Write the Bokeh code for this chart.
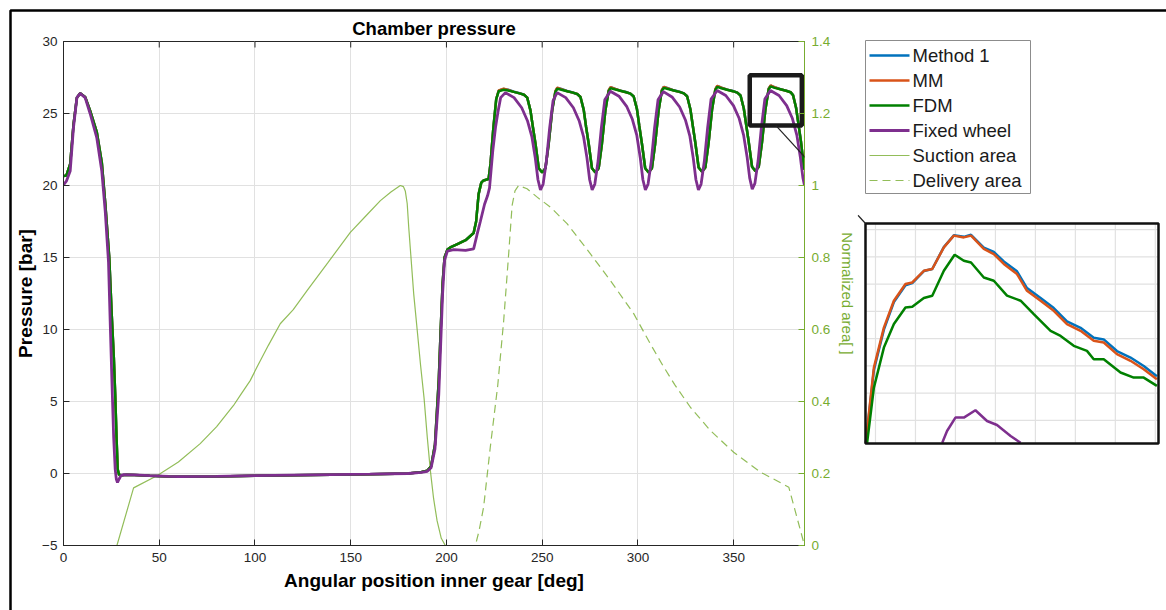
from bokeh.plotting import figure
from bokeh.models import (Range1d, LinearAxis, FixedTicker, CustomJSTickFormatter, Arrow, NormalHead)
from bokeh.core.properties import value
from bokeh.embed import file_html
from bokeh.resources import INLINE

# ---------------- data ----------------
angle_fdm = [0, 1.5, 3.5, 5.2, 7.0, 8.7, 11.3, 13.9, 17.4, 20.0, 21.8, 23.9, 25.2, 26.3, 27.0, 27.7,
             28.3, 29.0, 30.5, 33, 37, 45, 55, 60, 80, 100, 130, 160, 180, 187, 190, 192, 194, 196,
             197, 198, 199, 200.5, 202, 206, 210, 214.2, 215.5, 216.8, 218.2, 219.4, 222, 223, 224.5,
             226, 227.3, 229.9,
             232.2, 235.2, 238.2, 240.5, 242.2, 243.9, 245.1, 246.5, 248.2, 250.0, 251.7, 253.4, 255.2, 256.9, 257.9,
             260.0, 263.0, 266.0, 268.3, 270.0, 271.7, 272.9, 274.3, 276.0, 277.8, 279.5, 281.2, 283.0, 284.7, 285.7,
             287.8, 290.8, 293.8, 296.1, 297.8, 299.5, 300.7, 302.1, 303.8, 305.6, 307.3, 309.0, 310.8, 312.5, 313.5,
             315.7, 318.7, 321.7, 324.0, 325.7, 327.4, 328.6, 330.0, 331.7, 333.5, 335.2, 336.9, 338.7, 340.4, 341.4,
             343.6, 346.6, 349.6, 351.9, 353.6, 355.3, 356.5, 357.9, 359.6, 361.4, 363.1, 364.8, 366.6, 368.3, 369.3,
             371.4, 374.4, 377.4, 379.7, 381.0, 382.6, 383.8, 385.2, 386.6, 387.0]
pressure_fdm = [20.65, 20.7, 21.5, 24.2, 26.1, 26.4, 26.15, 25.2, 23.7, 21.6, 18.8, 15.0, 11.0, 8.0, 5.5, 2.5,
                0.3, -0.08, -0.12, -0.08, -0.1, -0.15, -0.2, -0.22, -0.2, -0.15, -0.1, -0.05, 0.0, 0.1, 0.2, 0.5, 2.0, 6.5,
                10.0, 13.2, 15.0, 15.55, 15.7, 15.95, 16.2, 16.7, 17.5, 19.4, 20.2, 20.35, 20.45, 21.5, 24.0,
                26.0, 26.55, 26.65,
                26.6, 26.5, 26.4, 26.3, 26.1, 25.2, 24.1, 22.9, 21.2, 20.9, 21.2, 22.9, 25.2, 26.5, 26.72,
                26.65, 26.55, 26.45, 26.35, 26.15, 25.25, 24.1, 22.9, 21.2, 20.9, 21.2, 22.9, 25.2, 26.55, 26.76,
                26.68, 26.58, 26.48, 26.38, 26.18, 25.3, 24.15, 22.9, 21.2, 20.9, 21.2, 22.9, 25.2, 26.58, 26.78,
                26.7, 26.6, 26.5, 26.4, 26.2, 25.3, 24.2, 22.95, 21.25, 20.95, 21.25, 22.95, 25.25, 26.62, 26.85,
                26.75, 26.65, 26.55, 26.45, 26.25, 25.35, 24.25, 23.0, 21.3, 21.0, 21.3, 23.0, 25.3, 26.68, 26.88,
                26.78, 26.68, 26.58, 26.48, 26.28, 25.4, 24.3, 23.0, 21.4, 21.1]
pressure_mm = [20.65, 20.7, 21.5, 24.2, 26.1, 26.4, 26.15, 25.2, 23.7, 21.6, 18.8, 15.0, 11.0, 8.0, 5.5, 2.5,
               0.3, -0.08, -0.12, -0.08, -0.1, -0.15, -0.2, -0.22, -0.2, -0.15, -0.1, -0.05, 0.0, 0.1, 0.2, 0.5, 2.0, 6.5,
               10.0, 13.2, 15.0, 15.55, 15.7, 15.95, 16.2, 16.7, 17.5, 19.4, 20.2, 20.35, 20.45, 21.5, 24.0,
               26.0, 26.6, 26.72,
               26.64, 26.5, 26.4, 26.3, 26.1, 25.2, 24.1, 22.9, 21.2, 20.9, 21.2, 22.9, 25.2, 26.55, 26.79,
               26.69, 26.55, 26.45, 26.35, 26.15, 25.25, 24.1, 22.9, 21.2, 20.9, 21.2, 22.9, 25.2, 26.6, 26.83,
               26.72, 26.58, 26.48, 26.38, 26.18, 25.3, 24.15, 22.9, 21.2, 20.9, 21.2, 22.9, 25.2, 26.63, 26.85,
               26.74, 26.6, 26.5, 26.4, 26.2, 25.3, 24.2, 22.95, 21.25, 20.95, 21.25, 22.95, 25.25, 26.67, 26.92,
               26.79, 26.65, 26.55, 26.45, 26.25, 25.35, 24.25, 23.0, 21.3, 21.0, 21.3, 23.0, 25.3, 26.73, 26.95,
               26.82, 26.68, 26.58, 26.48, 26.28, 25.4, 24.3, 23.0, 21.4, 21.1]
pressure_method1 = [20.65, 20.7, 21.5, 24.2, 26.1, 26.4, 26.15, 25.2, 23.7, 21.6, 18.8, 15.0, 11.0, 8.0, 5.5, 2.5,
                    0.3, -0.08, -0.12, -0.08, -0.1, -0.15, -0.2, -0.22, -0.2, -0.15, -0.1, -0.05, 0.0, 0.1, 0.2, 0.5, 2.0, 6.5,
                    10.0, 13.2, 15.0, 15.55, 15.7, 15.95, 16.2, 16.7, 17.5, 19.4, 20.2, 20.35, 20.45, 21.5, 24.0,
                    26.0, 26.58, 26.71,
                    26.65, 26.51, 26.41, 26.3, 26.1, 25.2, 24.1, 22.9, 21.2, 20.9, 21.2, 22.9, 25.2, 26.54, 26.78,
                    26.7, 26.56, 26.46, 26.35, 26.15, 25.25, 24.1, 22.9, 21.2, 20.9, 21.2, 22.9, 25.2, 26.59, 26.82,
                    26.73, 26.59, 26.49, 26.38, 26.18, 25.3, 24.15, 22.9, 21.2, 20.9, 21.2, 22.9, 25.2, 26.62, 26.84,
                    26.75, 26.61, 26.51, 26.4, 26.2, 25.3, 24.2, 22.95, 21.25, 20.95, 21.25, 22.95, 25.25, 26.66, 26.91,
                    26.8, 26.66, 26.56, 26.45, 26.25, 25.35, 24.25, 23.0, 21.3, 21.0, 21.3, 23.0, 25.3, 26.72, 26.94,
                    26.83, 26.69, 26.59, 26.48, 26.28, 25.4, 24.3, 23.0, 21.4, 21.1]

angle_fixed = [0, 1.5, 3.5, 5.2, 7.0, 8.7, 11.3, 13.9, 17.4, 20.0, 21.8, 23.5, 24.5, 25.3, 26.2, 27.0, 27.6,
               28.2, 29.0, 30.0, 31.5, 37, 45, 55, 60, 80, 100, 130, 160, 180, 187, 190, 192, 194, 196, 197,
               198, 199, 200.5, 203.8, 210, 214.2, 216.0, 217.7, 219.9, 221.5, 222.5, 224.2, 225.6, 226.9,
               228.3, 230.8,
               235.3, 239.3, 242.3, 244.6, 246.4, 247.8, 249.1, 250.5, 252.2, 253.9, 255.7, 257.8,
               262.3, 266.3, 269.3, 271.6, 273.4, 274.8, 276.1, 277.5, 279.2, 280.9, 282.7, 285.6,
               290.1, 294.1, 297.1, 299.4, 301.2, 302.6, 303.9, 305.3, 307.0, 308.7, 310.5, 313.3,
               317.8, 321.8, 324.8, 327.1, 328.9, 330.3, 331.6, 333.0, 334.7, 336.4, 338.2, 341.4,
               345.9, 349.9, 352.9, 355.2, 357.0, 358.4, 359.7, 361.1, 362.8, 364.5, 366.3, 369.2,
               373.7, 377.7, 380.7, 383.0, 384.8, 386.2, 387.0]
pressure_fixed = [20.05, 20.3, 21.0, 24.0, 26.1, 26.4, 26.1, 25.0, 23.3, 21.0, 18.2, 14.7, 10.0, 6.4, 2.5, 0.3, -0.4,
                  -0.62, -0.4, -0.15, -0.08, -0.1, -0.15, -0.2, -0.22, -0.2, -0.15, -0.1, -0.05, 0.0, 0.08, 0.15, 0.4, 1.7, 5.5, 9.0,
                  12.5, 14.8, 15.45, 15.55, 15.5, 15.6, 16.6, 17.5, 18.7, 19.3, 19.84, 22.4, 24.0, 25.1,
                  26.1, 26.45,
                  26.1, 25.4, 24.5, 23.4, 21.9, 20.4, 19.7, 20.1, 21.7, 24.0, 25.9, 26.45,
                  26.1, 25.4, 24.5, 23.4, 21.9, 20.4, 19.7, 20.1, 21.7, 24.0, 25.95, 26.55,
                  26.2, 25.5, 24.6, 23.5, 21.95, 20.4, 19.7, 20.1, 21.7, 24.0, 25.95, 26.52,
                  26.15, 25.45, 24.55, 23.45, 21.9, 20.4, 19.7, 20.1, 21.7, 24.0, 26.0, 26.6,
                  26.25, 25.55, 24.65, 23.5, 22.0, 20.5, 19.75, 20.15, 21.75, 24.05, 26.0, 26.6,
                  26.25, 25.55, 24.65, 23.5, 22.0, 20.5, 20.0]

angle_suction = [0, 27.9, 36.6, 48.8, 60, 71.4, 80, 88.8, 92.3, 97.5, 101, 107, 113.2, 120, 127.2, 138,
                 149.8, 158, 165.5, 171, 175.9, 177.5, 178.5, 179.5, 180.3, 182.9, 184.7, 186.5, 188.3, 190,
                 191.6, 193.3, 195.1, 197.3, 199.4, 387]
area_suction = [0, 0, 0.16, 0.194, 0.232, 0.283, 0.33, 0.389, 0.417, 0.458, 0.495, 0.556, 0.616, 0.655, 0.708, 0.785,
                0.87, 0.916, 0.958, 0.982, 1.0, 0.997, 0.985, 0.95, 0.884, 0.699, 0.6, 0.5, 0.41, 0.3,
                0.208, 0.13, 0.069, 0.02, 0, 0]

angle_delivery = [0, 215.1, 217, 219.4, 222.9, 226.8, 229.9, 232.5, 234.3, 235.8, 237.7, 242.1, 248, 254.3,
                  263, 275.2, 285.6, 297.8, 306.5, 313, 319.2, 327.4, 337.9, 350, 364, 378.8, 387]
area_delivery = [0, 0, 0.04, 0.106, 0.273, 0.445, 0.625, 0.81, 0.945, 0.985, 1.0, 0.991, 0.965, 0.94,
                 0.894, 0.81, 0.736, 0.644, 0.56, 0.5, 0.447, 0.384, 0.319, 0.259, 0.204, 0.162, 0]

x_ticks = [0, 50, 100, 150, 200, 250, 300, 350]
y_ticks = [-5, 0, 5, 10, 15, 20, 25, 30]
area_ticks = [0, 0.2, 0.4, 0.6, 0.8, 1.0, 1.2, 1.4]

legend_labels = ["Method 1", "MM", "FDM", "Fixed wheel", "Suction area", "Delivery area"]

# zoom rectangle drawn on the main axes (deg, bar)
zoom_left, zoom_right, zoom_bottom, zoom_top = 358.4, 385.6, 24.17, 27.66

# magnified inset
inset_angle_mm = [364.76, 364.78, 364.96, 365.21, 365.46, 365.75, 365.92, 366.21, 366.42, 366.71, 366.96,
                  367.21, 367.39, 367.71, 367.96, 368.21, 368.54, 368.79, 369.13, 369.46, 369.79, 370.13,
                  370.46, 370.71, 371.04, 371.38, 371.71, 372.04]
inset_p_mm = [25.235, 25.30, 25.787, 26.081, 26.278, 26.401, 26.412, 26.498, 26.511, 26.670, 26.756,
              26.743, 26.756, 26.658, 26.621, 26.548, 26.474, 26.351, 26.278, 26.204, 26.107, 26.057,
              25.984, 25.971, 25.886, 25.837, 25.775, 25.702]
inset_p_method1 = [25.235, 25.29, 25.770, 26.066, 26.268, 26.392, 26.408, 26.496, 26.511, 26.672, 26.758,
                   26.747, 26.762, 26.668, 26.636, 26.566, 26.494, 26.371, 26.298, 26.224, 26.127, 26.079,
                   26.006, 25.994, 25.909, 25.861, 25.799, 25.724]
inset_angle_fdm = [364.79, 364.96, 365.21, 365.46, 365.75, 365.92, 366.21, 366.42, 366.71, 366.98, 367.21,
                   367.39, 367.71, 367.96, 368.29, 368.63, 368.96, 369.38, 369.63, 369.96, 370.29, 370.46,
                   370.71, 371.13, 371.46, 371.71, 372.04]
inset_p_fdm = [25.235, 25.640, 25.934, 26.107, 26.229, 26.234, 26.298, 26.315, 26.498, 26.616, 26.572,
               26.559, 26.449, 26.425, 26.315, 26.278, 26.180, 26.057, 26.020, 25.947, 25.910, 25.849,
               25.849, 25.751, 25.714, 25.714, 25.653]
inset_angle_fixed = [366.67, 366.79, 367.0, 367.21, 367.5, 367.79, 368.04, 368.38, 368.63]
inset_p_fixed = [25.235, 25.322, 25.420, 25.420, 25.474, 25.395, 25.366, 25.285, 25.235]
inset_x_ticks = [365, 366, 367, 368, 369, 370, 371, 372]
inset_y_ticks = [25.4, 25.6, 25.8, 26.0, 26.2, 26.4, 26.6, 26.8]
inset_x_lim = (364.75, 372.08)
inset_y_lim = (25.23, 26.845)

# ---------------- layout (canvas pixels) and styles ----------------
W, H = 1166, 610
FL, FR, FT, FB = 63, 804, 41, 545          # main frame
IL, IR, IT, IB = 865, 1158, 223, 443       # inset frame
LG_L, LG_R, LG_T, LG_B = 865, 1030, 40, 193  # legend box
LG_ROW0, LG_ROW = 55, 25                   # first row centre, row pitch
LG_SAMPLE = (869, 909)                     # legend line sample x extent
LG_TEXT_X = 912
BORDER = 10                                # outer page frame
TICK_PX = 6                                # inward tick length
X_LIM = (0, 387)
Y_LIM = (-5, 30)
AREA_LIM = (0, 1.4)

FONT = "Liberation Sans"
AX = "#262626"
GRID = "#e1e1e1"
C_M1, C_MM, C_FDM, C_FIX = "#0072BD", "#D95319", "#008000", "#7E2F8E"
C_AREA = "#77AC30"

# extra ranges: one in canvas pixels (for page furniture) and one for the inset axes
sx = (inset_x_lim[1] - inset_x_lim[0]) / (IR - IL)
sy = (inset_y_lim[1] - inset_y_lim[0]) / (IB - IT)
inset_x_range = Range1d(inset_x_lim[0] - (IL - FL) * sx, inset_x_lim[0] + (FR - IL) * sx)
inset_y_range = Range1d(inset_y_lim[0] - (FB - IB) * sy, inset_y_lim[1] + (IT - FT) * sy)

p = figure(width=W, height=H, x_range=Range1d(*X_LIM), y_range=Range1d(*Y_LIM),
           output_backend="svg", toolbar_location=None,
           min_border_left=FL, min_border_right=W - FR, min_border_top=FT, min_border_bottom=H - FB,
           background_fill_color="white", border_fill_color="white",
           outline_line_color=AX, outline_line_width=1,
           title="Chamber pressure")
p.extra_x_ranges = {"inset_x": inset_x_range, "px_x": Range1d(FL, FR)}
p.extra_y_ranges = {"area": Range1d(*AREA_LIM), "inset_y": inset_y_range, "px_y": Range1d(FB, FT)}

p.title.text_font = FONT
p.title.text_font_size = "18.5px"
p.title.text_font_style = "bold"
p.title.text_color = "black"
p.title.align = "center"
p.title.standoff = 6

xa = p.below[0]
ya = p.left[0]
for ax in (xa, ya):
    ax.axis_line_color = AX
    ax.major_tick_line_color = AX
    ax.major_tick_in = TICK_PX
    ax.major_tick_out = 0
    ax.minor_tick_line_color = None
    ax.major_label_text_font = FONT
    ax.major_label_text_font_size = "13.5px"
    ax.major_label_text_color = AX
    ax.axis_label_text_font = FONT
    ax.axis_label_text_font_size = "19px"
    ax.axis_label_text_font_style = "bold"
    ax.axis_label_text_color = "black"
xa.ticker = FixedTicker(ticks=x_ticks)
ya.ticker = FixedTicker(ticks=y_ticks)
xa.axis_label = "Angular position inner gear [deg]"
ya.axis_label = "Pressure [bar]"
xa.major_label_standoff = 7
ya.major_label_standoff = 6
xa.axis_label_standoff = 5
ya.axis_label_standoff = 3

p.xgrid.ticker = FixedTicker(ticks=x_ticks)
p.ygrid.ticker = FixedTicker(ticks=y_ticks)
p.xgrid.grid_line_color = GRID
p.ygrid.grid_line_color = GRID

right = LinearAxis(y_range_name="area", ticker=FixedTicker(ticks=area_ticks),
                   formatter=CustomJSTickFormatter(code="return String(Math.round(tick * 10) / 10);"),
                   axis_label="Normalized area[ ]", axis_line_color=C_AREA, major_tick_line_color=C_AREA,
                   major_tick_in=TICK_PX, major_tick_out=0, minor_tick_line_color=None,
                   major_label_text_font=FONT, major_label_text_font_size="13.5px",
                   major_label_text_color=C_AREA, major_label_standoff=7,
                   axis_label_text_font=FONT, axis_label_text_font_size="15px",
                   axis_label_text_font_style="normal", axis_label_text_color=C_AREA,
                   axis_label_standoff=6)
p.add_layout(right, "right")

# inward tick marks on the top edge of the box
tick_len = TICK_PX * (Y_LIM[1] - Y_LIM[0]) / (FB - FT)
p.segment(x0=x_ticks, x1=x_ticks, y0=[Y_LIM[1]] * len(x_ticks), y1=[Y_LIM[1] - tick_len] * len(x_ticks),
          line_color=AX, line_width=1)

# ---------------- main curves ----------------
STY_SUC = dict(line_color=C_AREA, line_width=1.2, line_alpha=0.8)
STY_DEL = dict(line_color=C_AREA, line_width=1.2, line_alpha=0.8, line_dash="8 5")
STY_M1 = dict(line_color=C_M1, line_width=2.5)
STY_MM = dict(line_color=C_MM, line_width=2.5)
STY_FDM = dict(line_color=C_FDM, line_width=2.5)
STY_FIX = dict(line_color=C_FIX, line_width=2.8)

p.line(angle_suction, area_suction, y_range_name="area", **STY_SUC)
p.line(angle_delivery, area_delivery, y_range_name="area", **STY_DEL)
p.line(angle_fdm, pressure_method1, **STY_M1)
p.line(angle_fdm, pressure_mm, **STY_MM)
p.line(angle_fdm, pressure_fdm, **STY_FDM)
p.line(angle_fixed, pressure_fixed, **STY_FIX)

p.quad(left=[zoom_left], right=[zoom_right], bottom=[zoom_bottom], top=[zoom_top],
       fill_alpha=0, line_color="#1a1a1a", line_width=4.5)

# ---------------- inset (drawn in the right margin) ----------------
ikw = dict(x_range_name="inset_x", y_range_name="inset_y", level="overlay")
p.quad(left=[inset_x_lim[0]], right=[inset_x_lim[1]], bottom=[inset_y_lim[0]], top=[inset_y_lim[1]],
       fill_color="white", line_color=None, **ikw)
p.segment(x0=inset_x_ticks, x1=inset_x_ticks, y0=[inset_y_lim[0]] * len(inset_x_ticks),
          y1=[inset_y_lim[1]] * len(inset_x_ticks), line_color=GRID, line_width=1.2, **ikw)
p.segment(x0=[inset_x_lim[0]] * len(inset_y_ticks), x1=[inset_x_lim[1]] * len(inset_y_ticks),
          y0=inset_y_ticks, y1=inset_y_ticks, line_color=GRID, line_width=1.2, **ikw)
p.line(inset_angle_mm, inset_p_method1, **STY_M1, **ikw)
p.line(inset_angle_mm, inset_p_mm, **STY_MM, **ikw)
p.line(inset_angle_fdm, inset_p_fdm, **STY_FDM, **ikw)
p.line(inset_angle_fixed, inset_p_fixed, line_color=C_FIX, line_width=2.5, **ikw)
p.quad(left=[inset_x_lim[0]], right=[inset_x_lim[1]], bottom=[inset_y_lim[0]], top=[inset_y_lim[1]],
       fill_alpha=0, line_color="#111111", line_width=2.5, **ikw)

# arrow from the zoom box to the inset corner (end point given in canvas pixels)
p.add_layout(Arrow(end=NormalHead(size=11, fill_color="black", line_color="black", line_width=1),
                   x_start=(zoom_left + zoom_right) / 2, y_start=zoom_bottom,
                   x_end=X_LIM[0] + (IL - FL) / (FR - FL) * (X_LIM[1] - X_LIM[0]),
                   y_end=Y_LIM[1] - (IT - FT) / (FB - FT) * (Y_LIM[1] - Y_LIM[0]),
                   line_color="#222222", line_width=1.2, level="overlay"))

pkw = dict(x_range_name="px_x", y_range_name="px_y", level="overlay")

# outer page frame (left and top edges)
p.line([BORDER, BORDER, W + 50], [H + 50, BORDER, BORDER], line_color="black", line_width=2.5, **pkw)

# ---------------- legend (drawn by hand in the right margin) ----------------
p.quad(left=[LG_L], right=[LG_R], top=[LG_T], bottom=[LG_B], fill_color="white",
       line_color="#8c8c8c", line_width=1, **pkw)
rows = [LG_ROW0 + i * LG_ROW for i in range(len(legend_labels))]
for yy, sty in zip(rows, [STY_M1, STY_MM, STY_FDM, STY_FIX, STY_SUC, STY_DEL]):
    p.line([LG_SAMPLE[0], LG_SAMPLE[1]], [yy, yy], **sty, **pkw)
p.text(x=[LG_TEXT_X] * len(rows), y=rows, text=legend_labels, text_font=value(FONT),
       text_font_size="18.5px", text_color="#1a1a1a", text_align="left", text_baseline="middle", **pkw)

open("out.html", "w").write(file_html(p, INLINE))
